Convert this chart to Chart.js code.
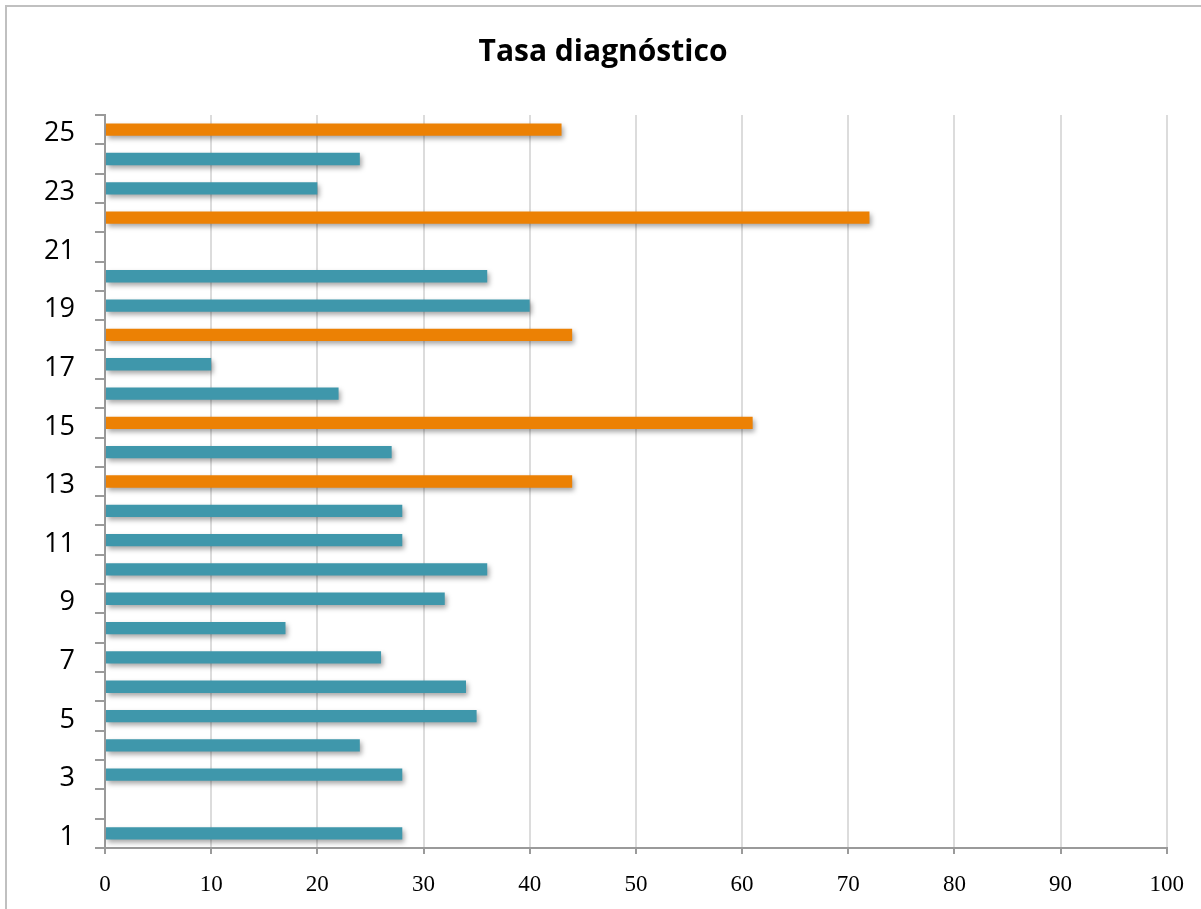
<!DOCTYPE html>
<html>
<head>
<meta charset="utf-8">
<title>Tasa diagnóstico</title>
<script src="https://cdn.jsdelivr.net/npm/chart.js@4/dist/chart.umd.min.js"></script>
<style>
    html, body { margin: 0; padding: 0; background: #fff; overflow: hidden; }
    #wrap { width: 1201px; height: 909px; position: relative; }
</style>
</head>
<body>
<div id="wrap"><canvas id="chart"></canvas></div>
<script>
// Rows 1..25 from bottom to top
const categories = ['1', '2', '3', '4', '5', '6', '7', '8', '9', '10', '11', '12', '13',
    '14', '15', '16', '17', '18', '19', '20', '21', '22', '23', '24', '25'];
const values = [28, null, 28, 24, 35, 34, 26, 17, 32, 36, 28, 28, 44,
    27, 61, 22, 10, 44, 40, 36, null, 72, 20, 24, 43];
const highlightedRows = ['13', '15', '18', '22', '25'];
const xTicks = [0, 10, 20, 30, 40, 50, 60, 70, 80, 90, 100];

const TEAL = '#3f97ab';
const ORANGE = '#ec8104';

const barColors = categories.map(c => highlightedRows.includes(c) ? ORANGE : TEAL);

// soft drop shadow under the bars
const barShadow = {
    id: 'barShadow',
    beforeDatasetsDraw(chart) {
        const ctx = chart.ctx;
        ctx.save();
        ctx.shadowColor = 'rgba(0, 0, 0, 0.35)';
        ctx.shadowBlur = 5;
        ctx.shadowOffsetX = 2;
        ctx.shadowOffsetY = 3;
    },
    afterDatasetsDraw(chart) {
        chart.ctx.restore();
    }
};

// thin gray frame (top and left edges visible)
const frame = {
    id: 'frame',
    beforeDraw(chart) {
        const ctx = chart.ctx;
        ctx.save();
        ctx.strokeStyle = '#c0c0c0';
        ctx.lineWidth = 2;
        ctx.beginPath();
        ctx.moveTo(6, chart.height);
        ctx.lineTo(6, 6);
        ctx.lineTo(chart.width, 6);
        ctx.stroke();
        ctx.restore();
    }
};

new Chart(document.getElementById('chart'), {
    type: 'bar',
    data: {
        labels: categories,
        datasets: [{
            data: values,
            backgroundColor: barColors,
            borderWidth: 0,
            categoryPercentage: 1,
            barPercentage: 0.42
        }]
    },
    options: {
        indexAxis: 'y',
        responsive: true,
        maintainAspectRatio: false,
        animation: false,
        layout: {
            padding: { left: 37, right: 32, top: 0, bottom: 0 }
        },
        plugins: {
            legend: { display: false },
            tooltip: { enabled: false },
            title: {
                display: true,
                text: 'Tasa diagnóstico',
                color: '#000',
                font: { family: 'Open Sans', size: 30, weight: 'bold', lineHeight: 1.2 },
                padding: { top: 34, bottom: 45 }
            }
        },
        scales: {
            x: {
                min: 0,
                max: 100,
                afterBuildTicks(axis) {
                    axis.ticks = xTicks.map(v => ({ value: v }));
                },
                afterFit(axis) {
                    axis.height = 61;
                },
                border: { color: '#9a9a9a', width: 2 },
                grid: {
                    color: '#dcdcdc',
                    lineWidth: 2,
                    tickColor: '#9a9a9a',
                    tickLength: 6
                },
                ticks: {
                    color: '#000',
                    padding: 17,
                    maxRotation: 0,
                    font: { family: 'Liberation Serif', size: 23 }
                }
            },
            y: {
                reverse: true,
                afterFit(axis) {
                    axis.width = 68;
                },
                border: { color: '#9a9a9a', width: 2 },
                grid: {
                    offset: true,
                    drawOnChartArea: false,
                    color: '#9a9a9a',
                    lineWidth: 2,
                    tickLength: 10
                },
                ticks: {
                    color: '#000',
                    padding: 20,
                    autoSkip: false,
                    labelOffset: 4,
                    font: { family: 'Open Sans', size: 27 },
                    callback(value, index) {
                        return index % 2 === 0 ? this.getLabelForValue(value) : '';
                    }
                }
            }
        }
    },
    plugins: [frame, barShadow]
});
</script>
</body>
</html>
